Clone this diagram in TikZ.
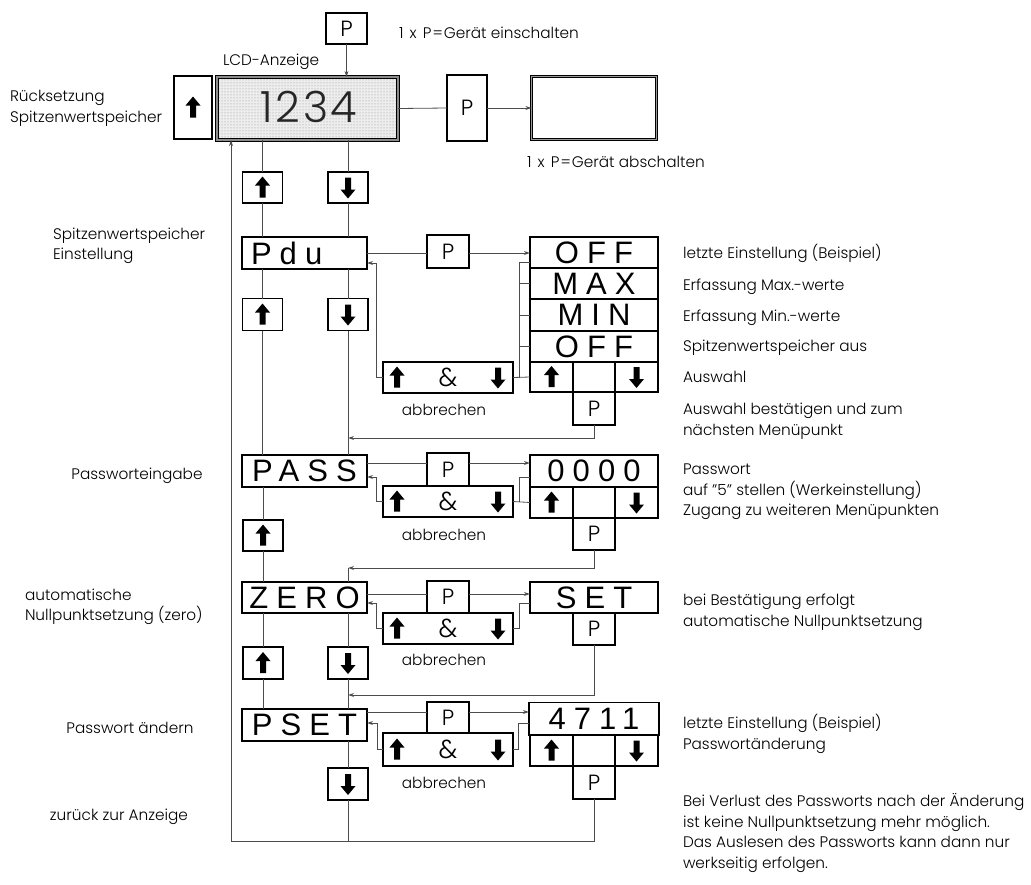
\documentclass[tikz,border=0pt]{standalone}
\usepackage{fontspec}
\setmainfont{Poppins}[UprightFont={* Light}]
\newfontfamily\dispfont{Liberation Sans}[LetterSpace=26]
\newfontfamily\lcdfont{Poppins}[UprightFont={* Light},LetterSpace=6]
\usetikzlibrary{arrows.meta,patterns}
\tikzset{
  uparr/.pic={\fill (0,-11) -- (7.5,-2) -- (3,-2) -- (3,10) -- (-3,10) -- (-3,-2) -- (-7.5,-2) -- cycle;},
  dnarr/.pic={\fill (0,11) -- (7.5,2) -- (3,2) -- (3,-10) -- (-3,-10) -- (-3,2) -- (-7.5,2) -- cycle;},
}
\begin{document}
\begin{tikzpicture}[x=1pt,y=-1pt,
  every node/.style={inner sep=0pt,outer sep=0pt},
  bx/.style={draw=black,line width=1.4pt,fill=white},
  ln/.style={draw=black!70,line width=0.8pt},
  arr/.style={ln,-{Stealth[length=6pt,width=3.8pt]}},
  lbl/.style={font=\fontsize{15.3}{20.5}\selectfont,align=left,anchor=west},
  lblc/.style={font=\fontsize{15.3}{20.5}\selectfont,align=center},
  dsp/.style={font=\dispfont\fontsize{31}{31}\selectfont},
  pf/.style={font=\fontsize{22}{22}\selectfont},
  amp/.style={font=\fontsize{26}{26}\selectfont},
]
\useasboundingbox (0,0) rectangle (1031,884);

% ---------- top ----------
\node[bx,minimum width=41pt,minimum height=31pt,pf] (ptop) at (346.5,28.5) {P};
\node[bx,minimum width=38pt,minimum height=63pt] (rst) at (193,107.5) {};
\pic at (rst) {uparr};
\node[draw=black,line width=1pt,double=black!45,double distance=1.6pt,
      minimum width=181pt,minimum height=63pt,preaction={fill=black!7},
      pattern=dots,pattern color=black!45] (lcd) at (307.5,108.5) {};
\node[font=\lcdfont\fontsize{43}{43}\selectfont,text=black!85] (lcdtxt) at (309,107) {1234};
\node[bx,minimum width=40pt,minimum height=66pt,pf] (poff) at (467,108) {P};
\node[draw=black,line width=1.1pt,double=black!40,double distance=1.2pt,fill=white,
      minimum width=125pt,minimum height=63pt] (blank) at (594,108) {};

\node[bx,minimum width=40pt,minimum height=31pt] (u1) at (262.5,187.5) {};
\pic at (u1) {uparr};
\node[bx,minimum width=40pt,minimum height=31pt] (d1) at (348,187.5) {};
\pic at (d1) {dnarr};

% ---------- Pdu ----------
\node[bx,minimum width=125pt,minimum height=32pt] (pdu) at (304.5,253) {};
\node[dsp,anchor=west] (pdutxt) at (251,253) {Pdu};
\node[bx,minimum width=42pt,minimum height=33pt,pf] (pp1) at (448,251.5) {P};
\node[bx,minimum width=128pt,minimum height=31pt,dsp] (off1) at (594,252.5) {OFF};
\node[bx,minimum width=128pt,minimum height=31pt,dsp] (max) at (594,283.5) {MAX};
\node[bx,minimum width=128pt,minimum height=32pt,dsp] (min) at (594,315) {MIN};
\node[bx,minimum width=128pt,minimum height=31pt,dsp] (off2) at (594,346.5) {OFF};
\node[bx,minimum width=43pt,minimum height=30pt] (c1a) at (551.5,377) {};
\node[bx,minimum width=42pt,minimum height=30pt] (c1b) at (594,377) {};
\node[bx,minimum width=43pt,minimum height=30pt] (c1c) at (636.5,377) {};
\pic at (c1a) {uparr};
\pic at (c1c) {dnarr};
\node[bx,minimum width=42pt,minimum height=33pt,pf] (p1) at (594,408.5) {P};
\node[bx,minimum width=130pt,minimum height=31pt] (amp1) at (448,377.5) {};
\pic at (397,377.5) {uparr};
\pic at (498,377.5) {dnarr};
\node[amp] (amp1t) at (448,377.5) {\&};
\node[lblc] (ab1) at (444,410) {abbrechen};
\node[bx,minimum width=40pt,minimum height=32pt] (u2) at (262.5,314.5) {};
\pic at (u2) {uparr};
\node[bx,minimum width=40pt,minimum height=32pt] (d2) at (348,314.5) {};
\pic at (d2) {dnarr};

% ---------- PASS ----------
\node[bx,minimum width=125pt,minimum height=32pt,dsp] (pass) at (304.5,471) {PASS};
\node[bx,minimum width=42pt,minimum height=33pt,pf] (pp2) at (448,469.5) {P};
\node[bx,minimum width=128pt,minimum height=32pt,dsp] (z0) at (594,471) {0000};
\node[bx,minimum width=43pt,minimum height=31pt] (c2a) at (551.5,502.5) {};
\node[bx,minimum width=42pt,minimum height=31pt] (c2b) at (594,502.5) {};
\node[bx,minimum width=43pt,minimum height=31pt] (c2c) at (636.5,502.5) {};
\pic at (c2a) {uparr};
\pic at (c2c) {dnarr};
\node[bx,minimum width=42pt,minimum height=32pt,pf] (p2) at (594,534) {P};
\node[bx,minimum width=130pt,minimum height=31pt] (amp2) at (448,501.5) {};
\pic at (397,501.5) {uparr};
\pic at (498,501.5) {dnarr};
\node[amp] (amp2t) at (448,501.5) {\&};
\node[lblc] (ab2) at (444,535) {abbrechen};
\node[bx,minimum width=40pt,minimum height=31pt] (u3) at (263,535.5) {};
\pic at (u3) {uparr};

% ---------- ZERO ----------
\node[bx,minimum width=125pt,minimum height=31pt,dsp] (zero) at (304.5,597.5) {ZERO};
\node[bx,minimum width=42pt,minimum height=32pt,pf] (pp3) at (448,597) {P};
\node[bx,minimum width=128pt,minimum height=31pt,dsp] (set) at (594,597.5) {SET};
\node[bx,minimum width=42pt,minimum height=32pt,pf] (p3) at (594,629) {P};
\node[bx,minimum width=130pt,minimum height=31pt] (amp3) at (448,628.5) {};
\pic at (397,628.5) {uparr};
\pic at (498,628.5) {dnarr};
\node[amp] (amp3t) at (448,628.5) {\&};
\node[lblc] (ab3) at (444,660) {abbrechen};
\node[bx,minimum width=40pt,minimum height=32pt] (u4) at (263,663) {};
\pic at (u4) {uparr};
\node[bx,minimum width=40pt,minimum height=32pt] (d4) at (348,663) {};
\pic at (d4) {dnarr};

% ---------- PSET ----------
\node[bx,minimum width=125pt,minimum height=32pt,dsp] (pset) at (304.5,725) {PSET};
\node[bx,minimum width=42pt,minimum height=31pt,pf] (pp4) at (448,717.5) {P};
\node[bx,minimum width=130pt,minimum height=33pt,dsp] (b4711) at (594,719) {4711};
\node[bx,minimum width=43pt,minimum height=31pt] (c4a) at (551.5,750.5) {};
\node[bx,minimum width=42pt,minimum height=31pt] (c4b) at (594,750.5) {};
\node[bx,minimum width=43pt,minimum height=31pt] (c4c) at (636.5,750.5) {};
\pic at (c4a) {uparr};
\pic at (c4c) {dnarr};
\node[bx,minimum width=42pt,minimum height=33pt,pf] (p4) at (594,782.5) {P};
\node[bx,minimum width=130pt,minimum height=33pt] (amp4) at (448,749.5) {};
\pic at (397,749.5) {uparr};
\pic at (498,749.5) {dnarr};
\node[amp] (amp4t) at (448,749.5) {\&};
\node[lblc] (ab4) at (444,783) {abbrechen};
\node[bx,minimum width=40pt,minimum height=32pt] (d5) at (348,784) {};
\pic at (d5) {dnarr};

% ---------- connectors ----------
\draw[arr] (ptop.south) -- (ptop.south |- lcd.north);
\draw[ln] (lcd.east) -- (poff.west);
\draw[arr] (poff.east) -- (blank.west);
\draw[ln] (u1.north |- lcd.south) -- (u1.north);
\draw[ln] (d1.north |- lcd.south) -- (d1.north);
\draw[ln] (u1.south) -- (u1.south |- pdu.north);
\draw[ln] (d1.south) -- (d1.south |- pdu.north);

\draw[ln] (pdu.east) -- (pp1.west |- pdu.east);
\draw[arr] (pp1.east |- pdu.east) -- (off1.west |- pdu.east);
\coordinate (r1) at (376,263);
\draw[arr] (amp1.west) -| (r1) -- (r1 -| pdu.east);
\coordinate (b1) at (519,262);
\draw[ln] (amp1.east) -- (c1a.west);
\draw[ln] (b1 |- amp1.east) -- (b1) -- (b1 -| off1.west);
\draw[ln] (b1 |- max.west) -- (max.west);
\draw[ln] (b1 |- min.west) -- (min.west);
\draw[ln] (b1 |- off2.west) -- (off2.west);
\draw[ln] (u2.north |- pdu.south) -- (u2.north);
\draw[ln] (d2.north |- pdu.south) -- (d2.north);
\draw[ln] (u2.south) -- (u2.south |- pass.north);
\draw[ln] (d2.south) -- (d2.south |- pass.north);
\coordinate (j1) at (348,438);
\draw[arr] (p1.south) |- (j1);

\coordinate (y2) at (0,463);
\draw[ln] (pass.east |- y2) -- (pp2.west |- y2);
\draw[arr] (pp2.east |- y2) -- (z0.west |- y2);
\coordinate (r2) at (376,477);
\draw[arr] (amp2.west) -| (r2) -- (r2 -| pass.east);
\coordinate (b2) at (519,477);
\draw[ln] (amp2.east) -- (c2a.west);
\draw[ln] (b2 |- amp2.east) -- (b2) -- (b2 -| z0.west);
\draw[ln] (u3.north |- pass.south) -- (u3.north);
\draw[ln] (u3.south) -- (u3.south |- zero.north);
\coordinate (j2) at (348,568);
\draw[arr] (p2.south) |- (j2);
\draw[ln] (j2) -- (j2 |- zero.north);

\coordinate (y3) at (0,594);
\draw[ln] (zero.east |- y3) -- (pp3.west |- y3);
\draw[arr] (pp3.east |- y3) -- (set.west |- y3);
\coordinate (r3) at (376,603);
\draw[arr] (amp3.west) -| (r3) -- (r3 -| zero.east);
\coordinate (b3) at (519,603);
\draw[ln] (amp3.east) -| (b3) -- (b3 -| set.west);
\draw[ln] (u4.north |- zero.south) -- (u4.north);
\draw[ln] (d4.north |- zero.south) -- (d4.north);
\draw[ln] (u4.south) -- (u4.south |- pset.north);
\draw[ln] (d4.south) -- (d4.south |- pset.north);
\coordinate (j3) at (348,695);
\draw[arr] (p3.south) |- (j3);

\coordinate (y4) at (0,712);
\draw[ln] (pset.east |- y4) -- (pp4.west |- y4);
\draw[arr] (pp4.east |- y4) -- (b4711.west |- y4);
\coordinate (r4) at (377,723);
\draw[arr] (amp4.west) -| (r4) -- (r4 -| pset.east);
\coordinate (b4) at (518,723);
\draw[ln] (amp4.east) -| (b4) -- (b4 -| b4711.west);
\draw[ln] (d5.north |- pset.south) -- (d5.north);
\coordinate (bl) at (231,841);
\draw[ln] (d5.south) -- (d5.south |- bl);
\draw[arr] (p4.south) |- (bl) -- (bl |- lcd.south);

% ---------- labels ----------
\node[lbl] (tein) at (399,33) {1\hspace{2pt} x\hspace{2pt} P\hspace{1pt}=\hspace{1pt}Gerät einschalten};
\node[lbl] (tlcd) at (223,62) {LCD-Anzeige};
\node[lbl] (taus) at (527,162) {1\hspace{2pt} x\hspace{2pt} P\hspace{1pt}=\hspace{1pt}Gerät abschalten};
\node[lbl] (trst) at (10,108.5) {Rücksetzung\\Spitzenwertspeicher};
\node[lbl] (tspw) at (53,246) {Spitzenwertspeicher\\Einstellung};
\node[lblc] (tpe) at (137,476) {Passworteingabe};
\node[lbl] (tnull) at (25,607) {automatische\\Nullpunktsetzung (zero)};
\node[lblc] (tpae) at (130,728) {Passwort ändern};
\node[lblc] (tzur) at (119,817) {zurück zur Anzeige};

\node[lbl] (r1a) at (683,253) {letzte Einstellung (Beispiel)};
\node[lbl] (r1b) at (683,287) {Erfassung Max.-werte};
\node[lbl] (r1c) at (683,318) {Erfassung Min.-werte};
\node[lbl] (r1d) at (683,348) {Spitzenwertspeicher aus};
\node[lbl] (r1e) at (683,377) {Auswahl};
\node[lbl] (r1f) at (683,421) {Auswahl bestätigen und zum\\nächsten Menüpunkt};
\node[lbl] (r2a) at (683,492) {Passwort\\auf "5" stellen (Werkeinstellung)\\Zugang zu weiteren Menüpunkten};
\node[lbl] (r3a) at (683,612) {bei Bestätigung erfolgt\\automatische Nullpunktsetzung};
\node[lbl] (r4a) at (683,734) {letzte Einstellung (Beispiel)\\Passwortänderung};
\node[lbl] (r4b) at (683,833) {Bei Verlust des Passworts nach der Änderung\\ist keine Nullpunktsetzung mehr möglich.\\Das Auslesen des Passworts kann dann nur\\werkseitig erfolgen.};
\end{tikzpicture}
\end{document}
